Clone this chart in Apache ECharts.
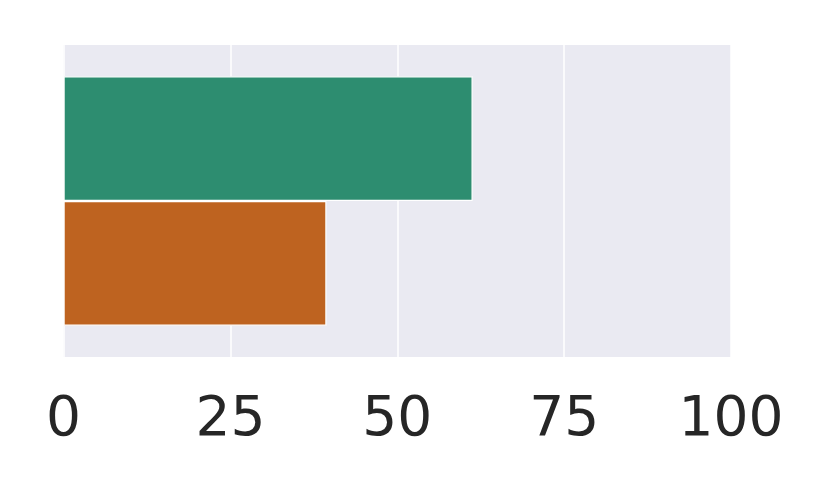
<!DOCTYPE html>
<html>
<head>
<meta charset="utf-8">
<script src="https://cdn.jsdelivr.net/npm/echarts@6/dist/echarts.min.js"></script>
<style>html,body{margin:0;padding:0;background:#fff;}#c{width:830px;height:498px;}</style>
</head>
<body>
<div id="c"></div>
<script>
const categories = ['A'];
const seriesNames = ['g1', 'g2'];
const values1 = [61.3];
const values2 = [39.4];
const colors = ['#2d8d70', '#be6320'];
const xTicks = [0, 25, 50, 75, 100];

const chart = echarts.init(document.getElementById('c'), null, {renderer: 'canvas'});
chart.setOption({
  animation: false,
  grid: {left: 63.5, right: 99, top: 45, bottom: 141, show: true, backgroundColor: '#eaeaf2', borderWidth: 0},
  xAxis: {
    type: 'value', min: xTicks[0], max: xTicks[xTicks.length - 1], interval: 25,
    axisLine: {show: false}, axisTick: {show: false},
    splitLine: {show: true, lineStyle: {color: '#ffffff', width: 1.5}},
    axisLabel: {color: '#262626', fontSize: 55, fontFamily: 'DejaVu Sans', margin: 36}
  },
  yAxis: {
    type: 'category', data: categories, inverse: true,
    axisLine: {show: false}, axisTick: {show: false}, axisLabel: {show: false}, splitLine: {show: false}
  },
  series: [
    {name: seriesNames[0], type: 'bar', barGap: '0%', barCategoryGap: '20%', data: values1,
     itemStyle: {color: colors[0], borderColor: '#ffffff', borderWidth: 1.2}},
    {name: seriesNames[1], type: 'bar', barGap: '0%', barCategoryGap: '20%', data: values2,
     itemStyle: {color: colors[1], borderColor: '#ffffff', borderWidth: 1.2}}
  ]
});
</script>
</body>
</html>
